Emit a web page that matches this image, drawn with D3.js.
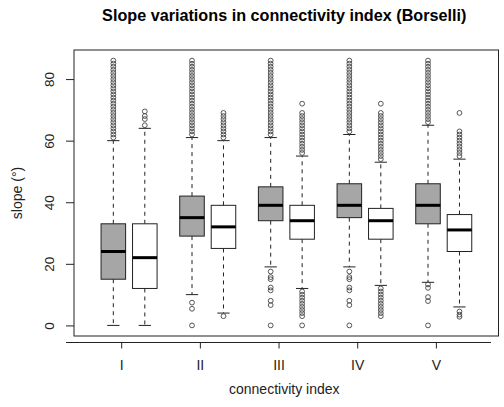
<!DOCTYPE html>
<html>
<head>
<meta charset="utf-8">
<script src="https://cdn.jsdelivr.net/npm/d3@7"></script>
<style>
  body { margin: 0; background: #fff; }
  svg { display: block; font-family: "Liberation Sans", Arial, sans-serif; }
</style>
</head>
<body>
<svg id="chart" width="504" height="407"></svg>
<script>
// ---- data ----
const categories = ["I", "II", "III", "IV", "V"];
const tickPositions = [1.25, 3.75, 6.25, 8.75, 11.25];
const boxPositions = [1, 2, 3.5, 4.5, 6, 7, 8.5, 9.5, 11, 12];
const boxGroup = ["gray", "white", "gray", "white", "gray", "white", "gray", "white", "gray", "white"];
const whiskerLow  = [0, 0, 10, 4, 19, 12, 19, 13, 14, 6];
const q1          = [15, 12, 29, 25, 34, 28, 35, 28, 33, 24];
const medians     = [24, 22, 35, 32, 39, 34, 39, 34, 39, 31];
const q3          = [33, 33, 42, 39, 45, 39, 46, 38, 46, 36];
const whiskerHigh = [60, 64, 61, 60, 61, 55, 62, 53, 65, 54];
const outliers = [
  [61,62,63,64,65,66,67,68,69,70,71,72,73,74,75,76,77,78,79,80,81,82,83,84,85,86],
  [65,67,68,69.5],
  [62,63,64,65,66,67,68,69,70,71,72,73,74,75,76,77,78,79,80,81,82,83,84,85,86, 7.4,5.4,0],
  [61,62,63,64,65,66,67,68,69, 3],
  [62,63,64,65,66,67,68,69,70,71,72,73,74,75,76,77,78,79,80,81,82,83,84,85,86, 17.5,15.7,15,12.3,11.4,8,6.6,0],
  [56,57,58,59,60,61,62,63,64,65,66,67,68,69,72, 11,10,9,8,7,6,5,4,3,0],
  [63,64,65,66,67,68,69,70,71,72,73,74,75,76,77,78,79,80,81,82,83,84,85,86, 17.5,15.7,15,12.3,11.4,8,6.6,0],
  [54,55,56,57,58,59,60,61,62,63,64,65,66,67,68,69,72, 12,11,10,9,8,7,6,5,4,3],
  [66,67,68,69,70,71,72,73,74,75,76,77,78,79,80,81,82,83,84,85,86, 13.3,12.2,9.2,7.9,0],
  [55,56,57,58,59,60,61,62,63,69, 4.5,3.5,2.8]
];
const yTicks = [0, 20, 40, 60, 80];
const fillColors = { gray: "#a6a6a6", white: "#ffffff" };

// ---- layout ----
const svg = d3.select("#chart");
const plot = { left: 74, right: 498.5, top: 50, bottom: 336 };
const x = d3.scaleLinear().domain([-0.25, 13.24]).range([plot.left, plot.right]);
const y = d3.scaleLinear().domain([-3.44, 89.44]).range([plot.bottom, plot.top]);
const boxW = x(0.78) - x(0);
const capW = boxW / 2;

// title
svg.append("text")
  .attr("x", (plot.left + plot.right) / 2 - 2).attr("y", 21)
  .attr("text-anchor", "middle")
  .attr("font-size", 16.2).attr("font-weight", "bold")
  .text("Slope variations in connectivity index (Borselli)");

// boxes
const g = svg.append("g");
boxPositions.forEach((p, i) => {
  const cx = x(p);
  const grp = g.append("g");
  // whiskers (dashed)
  grp.append("line").attr("x1", cx).attr("x2", cx)
    .attr("y1", y(q3[i])).attr("y2", y(whiskerHigh[i]))
    .attr("stroke", "#222").attr("stroke-dasharray", "4,4");
  grp.append("line").attr("x1", cx).attr("x2", cx)
    .attr("y1", y(q1[i])).attr("y2", y(whiskerLow[i]))
    .attr("stroke", "#222").attr("stroke-dasharray", "4,4");
  // caps
  [whiskerHigh[i], whiskerLow[i]].forEach(v => {
    grp.append("line").attr("x1", cx - capW / 2).attr("x2", cx + capW / 2)
      .attr("y1", y(v)).attr("y2", y(v))
      .attr("stroke", "#222");
  });
  // box
  grp.append("rect")
    .attr("x", cx - boxW / 2).attr("width", boxW)
    .attr("y", y(q3[i])).attr("height", y(q1[i]) - y(q3[i]))
    .attr("fill", fillColors[boxGroup[i]])
    .attr("stroke", "#222").attr("stroke-width", 1);
  // median
  grp.append("line").attr("x1", cx - boxW / 2).attr("x2", cx + boxW / 2)
    .attr("y1", y(medians[i])).attr("y2", y(medians[i]))
    .attr("stroke", "#000").attr("stroke-width", 3);
  // outliers
  grp.selectAll("circle").data(outliers[i]).join("circle")
    .attr("cx", cx).attr("cy", d => y(d)).attr("r", 2.4)
    .attr("fill", "none").attr("stroke", "#444").attr("stroke-width", 0.9);
});

// plot frame
svg.append("rect")
  .attr("x", plot.left).attr("y", plot.top)
  .attr("width", plot.right - plot.left).attr("height", plot.bottom - plot.top)
  .attr("fill", "none").attr("stroke", "#222").attr("stroke-width", 1);

// y axis
const yAxis = d3.axisLeft(y).tickValues(yTicks).tickSize(8).tickPadding(4);
const ya = svg.append("g").attr("transform", `translate(${plot.left},0)`).call(yAxis);
ya.select(".domain").remove();
ya.selectAll(".tick line").attr("stroke", "#222");
ya.selectAll(".tick text")
  .attr("font-size", 13.5).attr("fill", "#222")
  .attr("font-family", "Liberation Sans, Arial, sans-serif")
  .attr("transform", "rotate(-90)")
  .attr("x", 0).attr("y", -20).attr("dy", 0)
  .attr("text-anchor", "middle");

// x axis (offset below box)
const xAxis = d3.axisBottom(x).tickValues(tickPositions)
  .tickFormat((d, i) => categories[i]).tickSize(6).tickPadding(12).tickSizeOuter(0);
const xa = svg.append("g").attr("transform", "translate(0,342.5)").call(xAxis);
xa.select(".domain").attr("d", `M66,0H${x(13.0)}`).attr("stroke", "#222");
xa.selectAll(".tick line").attr("stroke", "#222");
xa.selectAll(".tick text").attr("font-size", 14).attr("fill", "#222")
  .attr("font-family", "Liberation Sans, Arial, sans-serif");

// axis titles
svg.append("text")
  .attr("x", (plot.left + plot.right) / 2 - 2).attr("y", 394)
  .attr("text-anchor", "middle").attr("font-size", 14).attr("fill", "#222")
  .text("connectivity index");
svg.append("text")
  .attr("transform", `translate(22,${(plot.top + plot.bottom) / 2}) rotate(-90)`)
  .attr("text-anchor", "middle").attr("font-size", 14).attr("fill", "#222")
  .text("slope (°)");
</script>
</body>
</html>
